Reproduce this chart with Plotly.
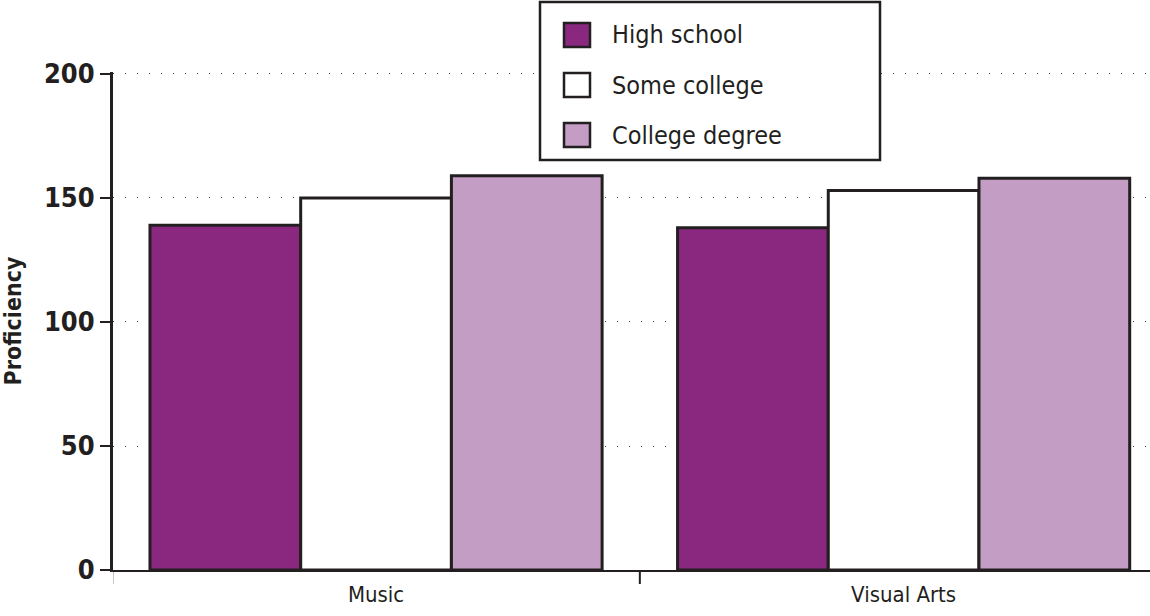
import plotly.graph_objects as go

categories = ["Music", "Visual Arts"]
series_names = ["High school", "Some college", "College degree"]
high_school = [139, 138]
some_college = [150, 153]
college_degree = [159, 158]
y_ticks = [0, 50, 100, 150, 200]

colors = ["#8A2880", "#FFFFFF", "#C39DC3"]
edge = "#231F20"
font_family = "DejaVu Sans Condensed, DejaVu Sans, Arial Narrow, sans-serif"

W, H = 1150, 616
L, R, T, B = 113, 0, 72, 46
pw, ph = W - L - R, H - T - B


def px(x):
    return (x - L) / pw


def py(y):
    return (H - B - y) / ph


fig = go.Figure()
for name, vals, col in zip(series_names, [high_school, some_college, college_degree], colors):
    fig.add_trace(go.Bar(
        x=[0, 1], y=vals, name=name, showlegend=False,
        marker=dict(color=col, line=dict(color=edge, width=3)),
        hoverinfo="y+name",
    ))

fig.update_layout(
    width=W, height=H,
    margin=dict(l=L, r=R, t=T, b=B, pad=0),
    paper_bgcolor="white", plot_bgcolor="white",
    barmode="group", bargap=0.143, bargroupgap=0,
    font=dict(family=font_family, color=edge),
    showlegend=False,
)
fig.update_xaxes(
    tickmode="array", tickvals=[0, 1], ticktext=categories,
    range=[-0.4986, 1.467],
    showline=True, linecolor=edge, linewidth=2,
    ticks="", showgrid=False, zeroline=False,
    tickfont=dict(size=22, family=font_family, color=edge),
    ticklabelstandoff=4,
)
# boundary tick marks between categories
for xb in [-0.5, 0.5]:
    fig.add_shape(type="line", xref="x", yref="paper", x0=xb, x1=xb,
                  y0=0, y1=-14 / ph, line=dict(color=edge, width=2))

fig.update_yaxes(
    range=[0, 200.8], tickvals=y_ticks,
    showline=True, linecolor=edge, linewidth=3,
    ticks="outside", ticklen=10, tickwidth=2, tickcolor=edge,
    showgrid=True, gridcolor="#444444", gridwidth=1, griddash="1px,11px",
    zeroline=False,
    tickfont=dict(size=27, family=font_family, color=edge, weight="bold"),
    title=dict(text="<b>Proficiency</b>", font=dict(size=23, family=font_family, color=edge), standoff=16),
)

# legend box
fig.add_shape(type="rect", xref="paper", yref="paper",
              x0=px(540), x1=px(880), y0=py(2), y1=py(160),
              line=dict(color=edge, width=2.5), fillcolor="white", layer="above")
for i, (name, col) in enumerate(zip(series_names, colors)):
    cy = 35 + 50 * i
    fig.add_shape(type="rect", xref="paper", yref="paper",
                  x0=px(564), x1=px(590), y0=py(cy - 12), y1=py(cy + 12),
                  line=dict(color=edge, width=2.5), fillcolor=col, layer="above")
    fig.add_annotation(xref="paper", yref="paper", x=px(610), y=py(cy),
                       text=name, showarrow=False, xanchor="left", yanchor="middle",
                       font=dict(size=25, family=font_family, color=edge))

fig.write_html("out.html")
